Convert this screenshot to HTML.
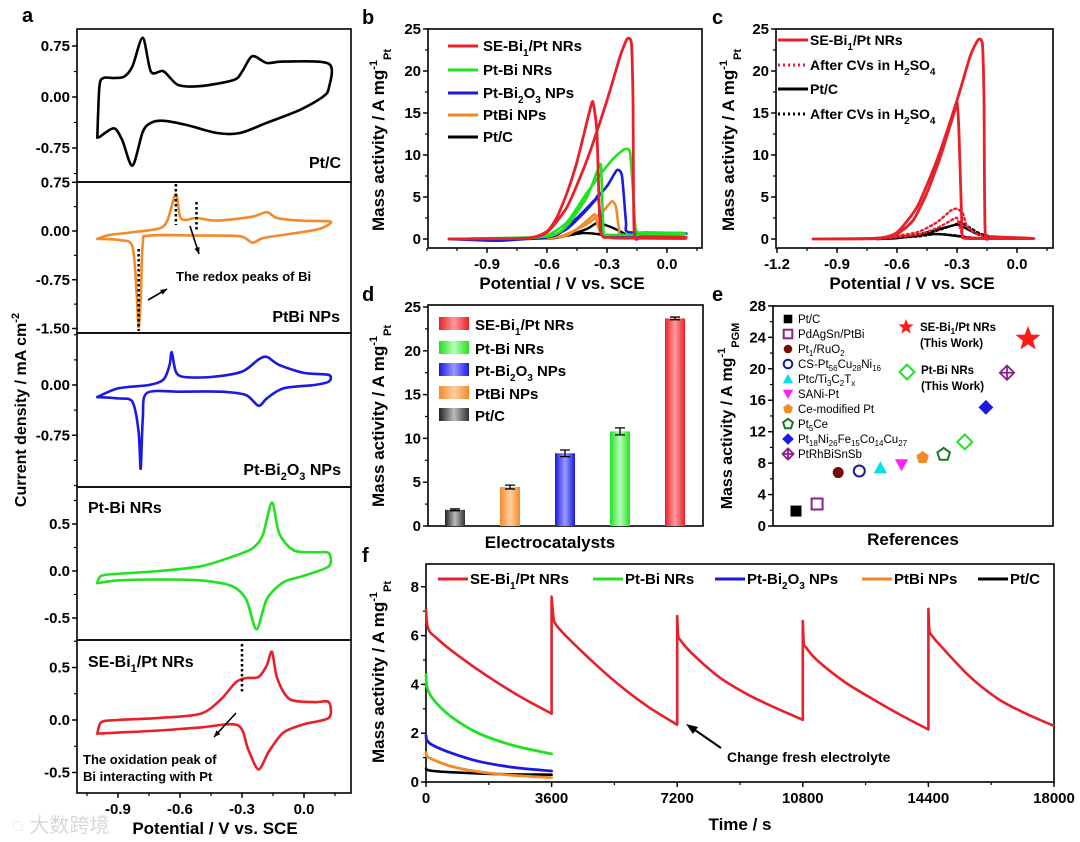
<!DOCTYPE html>
<html><head><meta charset="utf-8">
<style>
html,body{margin:0;padding:0;background:#fff;}
svg{display:block;font-family:"Liberation Sans",Arial,sans-serif;}
.b{font-weight:bold;}
</style></head>
<body>
<svg id="fig" width="1080" height="842" viewBox="0 0 1080 842" xmlns="http://www.w3.org/2000/svg">
<defs>
<linearGradient id="gRed" x1="0" x2="1"><stop offset="0" stop-color="#e8202a"/><stop offset="0.5" stop-color="#ff9a9a"/><stop offset="1" stop-color="#e8202a"/></linearGradient>
<linearGradient id="gGreen" x1="0" x2="1"><stop offset="0" stop-color="#22e022"/><stop offset="0.5" stop-color="#b5ffb5"/><stop offset="1" stop-color="#22e022"/></linearGradient>
<linearGradient id="gBlue" x1="0" x2="1"><stop offset="0" stop-color="#1a1ae0"/><stop offset="0.5" stop-color="#9a9aff"/><stop offset="1" stop-color="#1a1ae0"/></linearGradient>
<linearGradient id="gOrange" x1="0" x2="1"><stop offset="0" stop-color="#f38a2a"/><stop offset="0.5" stop-color="#ffcf9e"/><stop offset="1" stop-color="#f38a2a"/></linearGradient>
<linearGradient id="gGray" x1="0" x2="1"><stop offset="0" stop-color="#222"/><stop offset="0.5" stop-color="#bbb"/><stop offset="1" stop-color="#333"/></linearGradient>
</defs>
<g id="static">
<text x="22" y="22" class="b" font-size="20">a</text>
<text x="362" y="24" class="b" font-size="20">b</text>
<text x="712" y="24" class="b" font-size="20">c</text>
<text x="362" y="301" class="b" font-size="20">d</text>
<text x="712" y="301" class="b" font-size="20">e</text>
<text x="362" y="562" class="b" font-size="20">f</text>

<text class="b" font-size="16" transform="translate(26,410) rotate(-90)" text-anchor="middle">Current density / mA cm<tspan dy="-7" font-size="11">-2</tspan></text>
<text class="b" font-size="17" x="215" y="834" text-anchor="middle">Potential / V vs. SCE</text>
<text class="b" font-size="16" x="341" y="168" text-anchor="end">Pt/C</text>
<text class="b" font-size="16" x="340" y="322" text-anchor="end">PtBi NPs</text>
<text class="b" font-size="16" x="341" y="475" text-anchor="end">Pt-Bi<tspan dy="5" font-size="11">2</tspan><tspan dy="-5">O</tspan><tspan dy="5" font-size="11">3</tspan><tspan dy="-5"> NPs</tspan></text>
<text class="b" font-size="16" x="88" y="513">Pt-Bi NRs</text>
<text class="b" font-size="16" x="88" y="667">SE-Bi<tspan dy="5" font-size="11">1</tspan><tspan dy="-5">/Pt NRs</tspan></text>
<text class="b" font-size="13" x="176" y="281">The redox peaks of Bi</text>
<text class="b" font-size="13" x="83" y="764">The oxidation peak of</text>
<text class="b" font-size="13" x="83" y="781">Bi interacting with Pt</text>

<text class="b" font-size="17" transform="translate(384,140) rotate(-90)" text-anchor="middle">Mass activity / A mg<tspan dy="-7" font-size="11">-1</tspan><tspan dy="14" font-size="11">Pt</tspan></text>
<text class="b" font-size="17" x="562" y="289" text-anchor="middle">Potential / V vs. SCE</text>
<g class="b" font-size="15">
<line x1="448" y1="46" x2="478" y2="46" stroke="#e8202a" stroke-width="3"/><text x="483" y="51">SE-Bi<tspan dy="5" font-size="10">1</tspan><tspan dy="-5">/Pt NRs</tspan></text>
<line x1="448" y1="70" x2="478" y2="70" stroke="#22e022" stroke-width="3"/><text x="483" y="75">Pt-Bi NRs</text>
<line x1="448" y1="93" x2="478" y2="93" stroke="#1a1ae0" stroke-width="3"/><text x="483" y="98">Pt-Bi<tspan dy="5" font-size="10">2</tspan><tspan dy="-5">O</tspan><tspan dy="5" font-size="10">3</tspan><tspan dy="-5"> NPs</tspan></text>
<line x1="448" y1="115" x2="478" y2="115" stroke="#f38a2a" stroke-width="3"/><text x="483" y="120">PtBi NPs</text>
<line x1="448" y1="137" x2="478" y2="137" stroke="#000" stroke-width="3"/><text x="483" y="142">Pt/C</text>
</g>

<text class="b" font-size="17" transform="translate(734,140) rotate(-90)" text-anchor="middle">Mass activity / A mg<tspan dy="-7" font-size="11">-1</tspan><tspan dy="14" font-size="11">Pt</tspan></text>
<text class="b" font-size="17" x="912" y="289" text-anchor="middle">Potential / V vs. SCE</text>
<g class="b" font-size="14">
<line x1="778" y1="40" x2="808" y2="40" stroke="#e8202a" stroke-width="3"/><text x="810" y="45">SE-Bi<tspan dy="5" font-size="10">1</tspan><tspan dy="-5">/Pt NRs</tspan></text>
<line x1="778" y1="65" x2="808" y2="65" stroke="#e8202a" stroke-width="3" stroke-dasharray="2,3"/><text x="810" y="70">After CVs in H<tspan dy="5" font-size="10">2</tspan><tspan dy="-5">SO</tspan><tspan dy="5" font-size="10">4</tspan></text>
<line x1="778" y1="89" x2="808" y2="89" stroke="#000" stroke-width="3"/><text x="810" y="94">Pt/C</text>
<line x1="778" y1="114" x2="808" y2="114" stroke="#000" stroke-width="3" stroke-dasharray="2,3"/><text x="810" y="119">After CVs in H<tspan dy="5" font-size="10">2</tspan><tspan dy="-5">SO</tspan><tspan dy="5" font-size="10">4</tspan></text>
</g>

<text class="b" font-size="17" transform="translate(384,416) rotate(-90)" text-anchor="middle">Mass activity / A mg<tspan dy="-7" font-size="11">-1</tspan><tspan dy="14" font-size="11">Pt</tspan></text>
<text class="b" font-size="17" x="550" y="548" text-anchor="middle">Electrocatalysts</text>
<g class="b" font-size="15">
<rect x="439" y="317" width="30" height="13" fill="url(#gRed)"/><text x="475" y="330">SE-Bi<tspan dy="5" font-size="10">1</tspan><tspan dy="-5">/Pt NRs</tspan></text>
<rect x="439" y="341" width="30" height="13" fill="url(#gGreen)"/><text x="475" y="354">Pt-Bi NRs</text>
<rect x="439" y="363" width="30" height="13" fill="url(#gBlue)"/><text x="475" y="376">Pt-Bi<tspan dy="5" font-size="10">2</tspan><tspan dy="-5">O</tspan><tspan dy="5" font-size="10">3</tspan><tspan dy="-5"> NPs</tspan></text>
<rect x="439" y="386" width="30" height="13" fill="url(#gOrange)"/><text x="475" y="399">PtBi NPs</text>
<rect x="439" y="408" width="30" height="13" fill="url(#gGray)"/><text x="475" y="421">Pt/C</text>
</g>

<text class="b" font-size="16" transform="translate(732,416) rotate(-90)" text-anchor="middle">Mass activity / A mg<tspan dy="-7" font-size="11">-1</tspan><tspan dy="14" font-size="11">PGM</tspan></text>
<text class="b" font-size="17" x="913" y="545" text-anchor="middle">References</text>
<g font-size="11.5">
<text x="798" y="323">Pt/C</text>
<text x="798" y="338">PdAgSn/PtBi</text>
<text x="798" y="353">Pt<tspan dy="3" font-size="8">1</tspan><tspan dy="-3">/RuO</tspan><tspan dy="3" font-size="8">2</tspan></text>
<text x="798" y="368">CS-Pt<tspan dy="3" font-size="8">56</tspan><tspan dy="-3">Cu</tspan><tspan dy="3" font-size="8">28</tspan><tspan dy="-3">Ni</tspan><tspan dy="3" font-size="8">16</tspan></text>
<text x="798" y="383">Ptc/Ti<tspan dy="3" font-size="8">3</tspan><tspan dy="-3">C</tspan><tspan dy="3" font-size="8">2</tspan><tspan dy="-3">T</tspan><tspan dy="3" font-size="8">x</tspan></text>
<text x="798" y="398">SANi-Pt</text>
<text x="798" y="413">Ce-modified Pt</text>
<text x="798" y="428">Pt<tspan dy="3" font-size="8">5</tspan><tspan dy="-3">Ce</tspan></text>
<text x="798" y="443">Pt<tspan dy="3" font-size="8">18</tspan><tspan dy="-3">Ni</tspan><tspan dy="3" font-size="8">26</tspan><tspan dy="-3">Fe</tspan><tspan dy="3" font-size="8">15</tspan><tspan dy="-3">Co</tspan><tspan dy="3" font-size="8">14</tspan><tspan dy="-3">Cu</tspan><tspan dy="3" font-size="8">27</tspan></text>
<text x="798" y="458">PtRhBiSnSb</text>
<text x="920" y="331" class="b">SE-Bi<tspan dy="3" font-size="8">1</tspan><tspan dy="-3">/Pt NRs</tspan></text>
<text x="920" y="347" class="b">(This Work)</text>
<text x="921" y="374" class="b">Pt-Bi NRs</text>
<text x="921" y="390" class="b">(This Work)</text>
</g>

<text class="b" font-size="17" transform="translate(384,672) rotate(-90)" text-anchor="middle">Mass activity / A mg<tspan dy="-7" font-size="11">-1</tspan><tspan dy="14" font-size="11">Pt</tspan></text>
<text class="b" font-size="17" x="740" y="830" text-anchor="middle">Time / s</text>
<g class="b" font-size="15">
<line x1="438" y1="579" x2="468" y2="579" stroke="#e8202a" stroke-width="3"/><text x="470" y="584">SE-Bi<tspan dy="5" font-size="10">1</tspan><tspan dy="-5">/Pt NRs</tspan></text>
<line x1="593" y1="579" x2="623" y2="579" stroke="#22e022" stroke-width="3"/><text x="625" y="584">Pt-Bi NRs</text>
<line x1="715" y1="579" x2="745" y2="579" stroke="#1a1ae0" stroke-width="3"/><text x="747" y="584">Pt-Bi<tspan dy="5" font-size="10">2</tspan><tspan dy="-5">O</tspan><tspan dy="5" font-size="10">3</tspan><tspan dy="-5"> NPs</tspan></text>
<line x1="862" y1="579" x2="892" y2="579" stroke="#f38a2a" stroke-width="3"/><text x="894" y="584">PtBi NPs</text>
<line x1="978" y1="579" x2="1008" y2="579" stroke="#000" stroke-width="3"/><text x="1010" y="584">Pt/C</text>
</g>
<text class="b" font-size="14" x="727" y="762">Change fresh electrolyte</text>
<line x1="721" y1="748" x2="692" y2="728" stroke="#000" stroke-width="2"/>
<polygon points="686,724 698,727 693,734" fill="#000"/>

<text x="12" y="832" font-size="20" fill="#d8d8d8" font-family="'Liberation Sans','Noto Sans CJK SC',sans-serif">◌ 大数跨境</text>
</g>
<g id="dyn"></g>
</svg>
<script>
const aPtC = [[-1.0,-0.6],[-0.99,0.15],[-0.97,0.28],[-0.92,0.28],[-0.87,0.3],[-0.83,0.45],[-0.78,0.87],[-0.74,0.37],[-0.68,0.38],[-0.61,0.18],[-0.5,0.16],[-0.34,0.25],[-0.3,0.37],[-0.25,0.6],[-0.18,0.5],[-0.1,0.52],[0.12,0.49],[0.12,0.13],[0.09,0.0],[-0.02,-0.19],[-0.18,-0.38],[-0.31,-0.53],[-0.42,-0.53],[-0.57,-0.41],[-0.68,-0.35],[-0.74,-0.38],[-0.78,-0.51],[-0.83,-1.01],[-0.88,-0.63],[-0.92,-0.46],[-0.99,-0.59]];
const aPtBiNPs = [[-1.0,-0.12],[-0.94,-0.06],[-0.83,-0.02],[-0.7,0.04],[-0.66,0.17],[-0.62,0.57],[-0.6,0.22],[-0.57,0.17],[-0.52,0.2],[-0.42,0.16],[-0.25,0.22],[-0.18,0.29],[-0.13,0.2],[-0.02,0.16],[0.12,0.15],[0.12,0.1],[0.06,0.02],[-0.1,-0.06],[-0.2,-0.11],[-0.25,-0.18],[-0.31,-0.08],[-0.5,-0.07],[-0.75,-0.07],[-0.78,-0.19],[-0.79,-1.05],[-0.8,-1.48],[-0.81,-0.95],[-0.83,-0.24],[-0.89,-0.14],[-1.0,-0.12]];
const aPtBi2O3 = [[-1.0,-0.18],[-0.9,-0.05],[-0.75,0.0],[-0.68,0.08],[-0.65,0.3],[-0.64,0.49],[-0.62,0.2],[-0.58,0.12],[-0.45,0.12],[-0.3,0.2],[-0.22,0.38],[-0.18,0.42],[-0.12,0.3],[0.0,0.18],[0.12,0.15],[0.12,0.05],[0.05,0.0],[-0.1,-0.05],[-0.18,-0.2],[-0.22,-0.31],[-0.28,-0.15],[-0.4,-0.1],[-0.6,-0.1],[-0.76,-0.12],[-0.78,-0.5],[-0.79,-1.25],[-0.8,-0.7],[-0.83,-0.25],[-0.9,-0.2],[-1.0,-0.18]];
const aPtBiNRs = [[-1.0,-0.12],[-0.98,-0.05],[-0.9,-0.03],[-0.7,0.0],[-0.5,0.05],[-0.35,0.15],[-0.25,0.24],[-0.2,0.38],[-0.155,0.73],[-0.12,0.4],[-0.05,0.22],[0.05,0.2],[0.12,0.19],[0.12,0.05],[0.0,-0.05],[-0.1,-0.12],[-0.18,-0.3],[-0.23,-0.62],[-0.28,-0.3],[-0.35,-0.16],[-0.5,-0.1],[-0.7,-0.09],[-0.9,-0.1],[-1.0,-0.13]];
const aSEBi = [[-1.0,-0.13],[-0.98,-0.02],[-0.9,0.0],[-0.7,0.02],[-0.5,0.06],[-0.4,0.2],[-0.33,0.36],[-0.28,0.4],[-0.22,0.41],[-0.18,0.52],[-0.155,0.65],[-0.13,0.4],[-0.07,0.2],[0.05,0.17],[0.12,0.17],[0.12,0.02],[0.0,-0.04],[-0.1,-0.12],[-0.17,-0.3],[-0.22,-0.47],[-0.27,-0.28],[-0.32,-0.05],[-0.5,-0.07],[-0.7,-0.1],[-0.9,-0.12],[-1.0,-0.13]];
const aXTicks = [-0.9,-0.6,-0.3,0.0];
const aXLabels = ["-0.9","-0.6","-0.3","0.0"];
const aY1Ticks=[0.75,0,-0.75], aY1Labels=["0.75","0.00","-0.75"];
const aY2Ticks=[0.75,0,-0.75,-1.5], aY2Labels=["0.75","0.00","-0.75","-1.50"];
const aY3Ticks=[0,-0.75], aY3Labels=["0.00","-0.75"];
const aY4Ticks=[0.5,0,-0.5], aY4Labels=["0.5","0.0","-0.5"];
const aY5Ticks=[0.5,0,-0.5], aY5Labels=["0.5","0.0","-0.5"];

const bRed = [[-1.09,0],[-0.7,0.1],[-0.6,0.8],[-0.5,3.8],[-0.4,9.4],[-0.3,16.5],[-0.235,21.7],[-0.2,23.8],[-0.178,23.3],[-0.17,16.5],[-0.164,0.8],[-0.12,0.3],[0.075,0.2],[0.075,0.1],[-0.235,0.1],[-0.285,0.2],[-0.333,1],[-0.35,12.6],[-0.37,16.3],[-0.385,15.4],[-0.45,9.2],[-0.5,5.5],[-0.55,2.6],[-0.6,0.9],[-0.7,0.1],[-1.09,0]];
const bGreen = [[-1.09,0],[-0.7,0.1],[-0.6,0.4],[-0.5,2],[-0.4,5.5],[-0.3,8.7],[-0.25,10],[-0.21,10.7],[-0.185,10.3],[-0.168,5],[-0.155,1.0],[-0.1,0.8],[0.075,0.7],[0.075,0.6],[-0.2,0.5],[-0.3,0.5],[-0.318,1],[-0.33,8.7],[-0.35,8],[-0.4,5],[-0.5,1.6],[-0.6,0.3],[-1.09,0]];
const bBlue = [[-1.09,0],[-0.85,-0.2],[-0.7,0],[-0.6,0.2],[-0.5,1.2],[-0.4,3.5],[-0.3,6.3],[-0.25,8.2],[-0.225,7.5],[-0.205,2],[-0.19,0.8],[0.075,0.7],[0.075,0.6],[-0.25,0.4],[-0.32,0.5],[-0.335,3],[-0.345,5.1],[-0.36,4.7],[-0.45,2.5],[-0.55,0.5],[-0.7,0],[-1.09,0]];
const bOrange = [[-1.09,0],[-0.6,0.1],[-0.5,0.6],[-0.4,1.8],[-0.32,3.3],[-0.275,4.5],[-0.255,3.8],[-0.24,1.2],[-0.22,0.5],[0.075,0.3],[0.075,0.25],[-0.3,0.4],[-0.34,1.2],[-0.36,2.9],[-0.38,2.6],[-0.45,1.2],[-0.55,0.2],[-1.09,0]];
const bBlack = [[-1.09,0],[-0.6,0.05],[-0.5,0.4],[-0.4,1.2],[-0.35,1.9],[-0.3,1.6],[-0.25,1.1],[-0.2,0.5],[-0.15,0.2],[0.075,0.1],[0.075,0.05],[-0.2,0.1],[-0.28,0.3],[-0.35,0.6],[-0.42,0.7],[-0.5,0.4],[-0.6,0.1],[-1.09,0]];
const bXTicks=[-0.9,-0.6,-0.3,0.0], bXLabels=["-0.9","-0.6","-0.3","0.0"];
const bYTicks=[0,5,10,15,20,25], bYLabels=["0","5","10","15","20","25"];

const cRed = [[-1.02,0],[-0.7,0.1],[-0.6,0.8],[-0.5,3.8],[-0.4,9.4],[-0.3,16.5],[-0.235,21.7],[-0.195,23.7],[-0.173,23.2],[-0.165,16.5],[-0.159,0.8],[-0.12,0.3],[0.065,0.1],[0.065,0.05],[-0.235,0.05],[-0.27,0.2],[-0.275,1],[-0.29,12.6],[-0.3,16.3],[-0.31,15.4],[-0.38,10],[-0.45,5.5],[-0.52,2.2],[-0.6,0.6],[-0.7,0.05],[-1.02,0]];
const cRedAfter = [[-0.7,0],[-0.5,0.8],[-0.4,2],[-0.33,3.4],[-0.3,3.6],[-0.27,3],[-0.25,1.5],[-0.2,0.6],[-0.1,0.2],[0.07,0.1],[0.07,0.05],[-0.25,0.2],[-0.28,1],[-0.3,2.5],[-0.33,2.2],[-0.4,1.3],[-0.5,0.5],[-0.7,0]];
const cBlack = [[-0.7,0],[-0.6,0.1],[-0.5,0.5],[-0.4,1.1],[-0.3,1.7],[-0.25,1.2],[-0.2,0.6],[-0.12,0.2],[0.07,0.05],[-0.2,0.1],[-0.28,0.3],[-0.35,0.5],[-0.42,0.6],[-0.5,0.4],[-0.6,0.1],[-0.7,0]];
const cBlackAfter = [[-0.7,0],[-0.5,0.4],[-0.4,1.0],[-0.3,1.8],[-0.28,2.0],[-0.24,1.4],[-0.18,0.6],[-0.1,0.2],[0.07,0.05],[-0.2,0.1],[-0.3,0.4],[-0.4,0.6],[-0.5,0.3],[-0.7,0]];
const cXTicks=[-1.2,-0.9,-0.6,-0.3,0.0], cXLabels=["-1.2","-0.9","-0.6","-0.3","0.0"];

const dCats = ["Pt/C","PtBi NPs","Pt-Bi2O3 NPs","Pt-Bi NRs","SE-Bi1/Pt NRs"];
const dValues = [1.85,4.45,8.3,10.8,23.7];
const dErrors = [0.1,0.22,0.38,0.4,0.15];
const dFills = ["url(#gGray)","url(#gOrange)","url(#gBlue)","url(#gGreen)","url(#gRed)"];
const dYTicks=[0,5,10,15,20,25], dYLabels=["0","5","10","15","20","25"];

const eNames = ["Pt/C","PdAgSn/PtBi","Pt1/RuO2","CS-Pt56Cu28Ni16","Ptc/Ti3C2Tx","SANi-Pt","Ce-modified Pt","Pt5Ce","Pt-Bi NRs","Pt18Ni26Fe15Co14Cu27","PtRhBiSnSb","SE-Bi1/Pt NRs"];
const eValues = [1.9,2.8,6.8,7.0,7.4,7.8,8.7,9.1,10.7,15.1,19.5,23.8];
const eMarkers = ["sq","osq","circ","ocirc","tri","itri","pent","opent","odia","dia","ocross","star"];
const eColors = ["#000","#8b2090","#7a0a0a","#1a1aa0","#00e0e8","#ff20ff","#f38a2a","#1a7a1a","#22e022","#1a1ae0","#8b2090","#ff1a1a"];
const eLegendIdx = [0,1,2,3,4,5,6,7,9,10];
const eYTicks=[0,4,8,12,16,20,24,28], eYLabels=["0","4","8","12","16","20","24","28"];

const fRedT = [0,60,300,900,1800,2700,3600, 3600,3650,3700,4000,4800,5600,6400,7200, 7200,7230,7300,7600,8400,9200,10000,10800, 10800,10830,10900,11200,12000,12800,13600,14400, 14400,14430,14500,14800,15600,16400,17200,18000];
const fRedV = [7.1,6.3,5.9,5.2,4.3,3.5,2.8, 7.6,6.8,6.5,6.0,4.9,3.9,3.05,2.35, 6.8,6.0,5.8,5.3,4.3,3.6,3.05,2.55, 6.6,5.7,5.5,5.0,4.1,3.4,2.75,2.15, 7.1,6.2,6.0,5.5,4.3,3.4,2.8,2.3];
const fT = [0,30,200,700,1500,2500,3600];
const fGreen = [4.4,3.9,3.4,2.7,2.0,1.5,1.15];
const fBlue = [1.9,1.7,1.5,1.2,0.85,0.6,0.45];
const fOrange = [1.2,1.05,0.92,0.65,0.42,0.27,0.18];
const fBlack = [0.55,0.5,0.45,0.4,0.35,0.31,0.3];
const fXTicks=[0,3600,7200,10800,14400,18000], fXLabels=["0","3600","7200","10800","14400","18000"];
const fYTicks=[0,2,4,6,8], fYLabels=["0","2","4","6","8"];

const NS='http://www.w3.org/2000/svg';
const G=document.getElementById('dyn');
function mk(tag,attrs,parent){const e=document.createElementNS(NS,tag);for(const k in attrs)e.setAttribute(k,attrs[k]);(parent||G).appendChild(e);return e;}
function smooth(P,t){t=t||1/6;let d='M'+P[0][0].toFixed(1)+','+P[0][1].toFixed(1);
 for(let i=0;i<P.length-1;i++){const p0=P[i-1]||P[i],p1=P[i],p2=P[i+1],p3=P[i+2]||P[i+1];
  const c1=[p1[0]+(p2[0]-p0[0])*t,p1[1]+(p2[1]-p0[1])*t],c2=[p2[0]-(p3[0]-p1[0])*t,p2[1]-(p3[1]-p1[1])*t];
  d+='C'+c1.map(v=>v.toFixed(1))+' '+c2.map(v=>v.toFixed(1))+' '+p2.map(v=>v.toFixed(1));}
 return d;}
function curve(data,sx,sy,color,w,dash,name,tension){
 const p=mk('path',{d:smooth(data.map(q=>[sx(q[0]),sy(q[1])]),tension),fill:'none',stroke:color,'stroke-width':w,'stroke-linejoin':'round','stroke-linecap':'round'});
 if(dash)p.setAttribute('stroke-dasharray',dash);
 
 
}
function frame(x0,y0,x1,y1,name){
 const r=mk('rect',{x:x0,y:y0,width:x1-x0,height:y1-y0,fill:'none',stroke:'#000','stroke-width':1.6});
 
 
}
function yAxis(x,ticks,labels,sy,name,fs,minorStep,ymin,ymax){
 ticks.forEach((v,i)=>{
  mk('line',{x1:x-5,x2:x,y1:sy(v),y2:sy(v),stroke:'#000','stroke-width':1.4});
  const t=mk('text',{x:x-7,y:sy(v)+5,'text-anchor':'end','font-size':fs||15,'font-weight':'bold'});
  t.textContent=labels[i];
  
  
 });
 if(minorStep){for(let v=ymin;v<=ymax+1e-9;v+=minorStep){const y=sy(v);mk('line',{x1:x-3,x2:x,y1:y,y2:y,stroke:'#000','stroke-width':1.2});}}
}
function xAxis(y,ticks,labels,sx,name,fs,minorStep,xmin,xmax){
 ticks.forEach((v,i)=>{
  mk('line',{x1:sx(v),x2:sx(v),y1:y,y2:y+5,stroke:'#000','stroke-width':1.4});
  const t=mk('text',{x:sx(v),y:y+21,'text-anchor':'middle','font-size':fs||15,'font-weight':'bold'});
  t.textContent=labels[i];
  
  
 });
 if(minorStep){for(let v=xmin;v<=xmax+1e-9;v+=minorStep){const x=sx(v);mk('line',{x1:x,x2:x,y1:y,y2:y+3,stroke:'#000','stroke-width':1.2});}}
}

const ax=v=>304+v*206.7;
const aSubs=[
 {y0:29,y1:182,z:97,k:68,data:aPtC,col:'#000',t:aY1Ticks,l:aY1Labels,n:'a-ptc'},
 {y0:182,y1:333,z:231,k:65,data:aPtBiNPs,col:'#f38a2a',t:aY2Ticks,l:aY2Labels,n:'a-ptbi-nps'},
 {y0:333,y1:487,z:385,k:67,data:aPtBi2O3,col:'#1a1ae0',t:aY3Ticks,l:aY3Labels,n:'a-ptbi2o3'},
 {y0:487,y1:640,z:571,k:94,data:aPtBiNRs,col:'#22e022',t:aY4Ticks,l:aY4Labels,n:'a-ptbi-nrs'},
 {y0:640,y1:793,z:720,k:105,data:aSEBi,col:'#e8202a',t:aY5Ticks,l:aY5Labels,n:'a-sebi'}];
aSubs.forEach(s=>{
 const sy=v=>s.z-v*s.k;
 frame(77,s.y0,351,s.y1,s.n+'-frame');
 const mstep=s.t.length>1?Math.abs(s.t[0]-s.t[1])/2:0.375;
 const lo=(s.z-s.y1)/s.k, hi=(s.z-s.y0)/s.k;
 const st=Math.ceil(lo/mstep)*mstep;
 yAxis(77,s.t,s.l,sy,s.n+'-y',15,mstep,st,hi);
 curve(s.data,ax,sy,s.col,2.6,null,s.n+'-cv-curve',1/7);
});
xAxis(793,aXTicks,aXLabels,ax,'a-x',15,0.15,-1.05,0.2);
[[ax(-0.62),184,ax(-0.62),225],[ax(-0.52),202,ax(-0.52),230],[ax(-0.8),249,ax(-0.8),331],[ax(-0.3),644,ax(-0.3),692]].forEach(d=>{
 const l=mk('line',{x1:d[0],y1:d[1],x2:d[2],y2:d[3],stroke:'#000','stroke-width':2.5,'stroke-dasharray':'2.5,2.5'});
 
 
});
[[190,226,199,254],[148,300,167,289],[236,713,214,737]].forEach(d=>{
 const l=mk('line',{x1:d[0],y1:d[1],x2:d[2],y2:d[3],stroke:'#000','stroke-width':1.6});
 
 
 const ang=Math.atan2(d[3]-d[1],d[2]-d[0]),L=7;
 const p=mk('polygon',{points:`${d[2]},${d[3]} ${d[2]-L*Math.cos(ang-0.4)},${d[3]-L*Math.sin(ang-0.4)} ${d[2]-L*Math.cos(ang+0.4)},${d[3]-L*Math.sin(ang+0.4)}`,fill:'#000'});
 
 
});

const bx=v=>667+v*200, by=v=>239-v*8.4;
frame(428,29,702,248,'b-frame');
yAxis(428,bYTicks,bYLabels,by,'b-y',15,2.5,0,25);
xAxis(248,bXTicks,bXLabels,bx,'b-x',15,0.15,-1.2,0.15);
const TB=0.1;
curve(bBlack,bx,by,'#000',2.4,null,'b-ptc-curve',TB);
curve(bOrange,bx,by,'#f38a2a',2.6,null,'b-ptbi-nps-curve',TB);
curve(bBlue,bx,by,'#1a1ae0',2.6,null,'b-ptbi2o3-curve',TB);
curve(bGreen,bx,by,'#22e022',2.6,null,'b-ptbi-nrs-curve',TB);
curve(bRed,bx,by,'#e8202a',2.8,null,'b-sebi-curve',TB);

const cx=v=>1017+v*200, cy=v=>239-v*8.4;
frame(776,29,1053,248,'c-frame');
yAxis(776,bYTicks,bYLabels,cy,'c-y',15,2.5,0,25);
xAxis(248,cXTicks,cXLabels,cx,'c-x',15,0.15,-1.2,0.15);
curve(cBlack,cx,cy,'#000',2.4,null,'c-ptc-curve',TB);
curve(cBlackAfter,cx,cy,'#000',2.4,'2,3','c-ptc-after-curve',TB);
curve(cRedAfter,cx,cy,'#e8202a',2.4,'2,3','c-sebi-after-curve',TB);
curve(cRed,cx,cy,'#e8202a',2.8,null,'c-sebi-curve',TB);

const dy=v=>526-v*8.76, dx=i=>455+i*55;
frame(428,305,703,526,'d-frame');
yAxis(428,dYTicks,dYLabels,dy,'d-y',15,2.5,0,25);
dCats.forEach((c,i)=>{
 const r=mk('rect',{x:dx(i)-10,y:dy(dValues[i]),width:20,height:dy(0)-dy(dValues[i]),fill:dFills[i]});
 
 
 const top=dy(dValues[i]+dErrors[i]),bot=dy(dValues[i]-dErrors[i]);
 const e=mk('path',{d:`M${dx(i)-5},${top}H${dx(i)+5}M${dx(i)},${top}V${bot}M${dx(i)-5},${bot}H${dx(i)+5}`,stroke:'#000','stroke-width':1.3,fill:'none'});
 
 
});

const ey=v=>526-v*7.86, ex=i=>796+i*21.1;
frame(773,306,1053,526,'e-frame');
yAxis(773,eYTicks,eYLabels,ey,'e-y',15,2,0,28);
function marker(kind,x,y,c,s,name){
 let e;const f=kind.startsWith('o')?'none':c,sw=kind.startsWith('o')?2:0;
 const k=kind.replace(/^o/,'');
 if(k==='sq')e=mk('rect',{x:x-s,y:y-s,width:2*s,height:2*s,fill:f,stroke:c,'stroke-width':sw});
 else if(k==='cross'){e=mk('g',{});mk('path',{d:`M${x-s*1.3},${y}L${x},${y-s*1.3}L${x+s*1.3},${y}L${x},${y+s*1.3}ZM${x-s*1.3},${y}H${x+s*1.3}M${x},${y-s*1.3}V${y+s*1.3}`,fill:'none',stroke:c,'stroke-width':1.8},e);}
 else if(k==='circ')e=mk('circle',{cx:x,cy:y,r:s,fill:f,stroke:c,'stroke-width':sw});
 else if(k==='tri')e=mk('polygon',{points:`${x},${y-s*1.2} ${x+s*1.2},${y+s} ${x-s*1.2},${y+s}`,fill:f,stroke:c,'stroke-width':sw});
 else if(k==='itri')e=mk('polygon',{points:`${x},${y+s*1.2} ${x+s*1.2},${y-s} ${x-s*1.2},${y-s}`,fill:f,stroke:c,'stroke-width':sw});
 else if(k==='pent'){let pts=[];for(let j=0;j<5;j++){const a=-Math.PI/2+j*2*Math.PI/5;pts.push((x+s*1.2*Math.cos(a)).toFixed(1)+','+(y+s*1.2*Math.sin(a)).toFixed(1));}e=mk('polygon',{points:pts.join(' '),fill:f,stroke:c,'stroke-width':sw});}
 else if(k==='dia')e=mk('polygon',{points:`${x},${y-s*1.35} ${x+s*1.35},${y} ${x},${y+s*1.35} ${x-s*1.35},${y}`,fill:f,stroke:c,'stroke-width':sw});
 else if(k==='star'){let pts=[];for(let j=0;j<10;j++){const a=-Math.PI/2+j*Math.PI/5,r=j%2?s*0.42:s;pts.push((x+r*Math.cos(a)).toFixed(1)+','+(y+r*Math.sin(a)).toFixed(1));}e=mk('polygon',{points:pts.join(' '),fill:c});}
 
 
}
eValues.forEach((v,i)=>{
 const s=eMarkers[i]==='star'?13:5.5;
 marker(eMarkers[i],i===11?1028:ex(i),ey(v),eColors[i],s,'e-point-'+i);
});
eLegendIdx.forEach((idx,j)=>{
 marker(eMarkers[idx],788,319+j*15,eColors[idx],4.3,'e-legend-marker-'+j);
});
marker('star',906,327,'#ff1a1a',8,'e-legend-star');
marker('odia',907,372,'#22e022',5.5,'e-legend-diamond');

const fx=v=>426+v*(628/18000), fy=v=>782-v*24.4;
frame(426,564,1054,782,'f-frame');
yAxis(426,fYTicks,fYLabels,fy,'f-y',15,1,0,8.9);
xAxis(782,fXTicks,fXLabels,fx,'f-x',15,1800,0,18000);
curve(fT.map((t,i)=>[t,fBlack[i]]),fx,fy,'#000',2.6,null,'f-ptc-curve');
curve(fT.map((t,i)=>[t,fOrange[i]]),fx,fy,'#f38a2a',2.8,null,'f-ptbi-nps-curve');
curve(fT.map((t,i)=>[t,fBlue[i]]),fx,fy,'#1a1ae0',2.8,null,'f-ptbi2o3-curve');
curve(fT.map((t,i)=>[t,fGreen[i]]),fx,fy,'#22e022',2.8,null,'f-ptbi-nrs-curve');
(function(){
 let segs=[],cur=[];
 fRedT.forEach((t,i)=>{if(i>0&&t===fRedT[i-1]){segs.push(cur);cur=[];}cur.push([fx(t),fy(fRedV[i])]);});
 segs.push(cur);
 let d='';
 segs.forEach((s,i)=>{const part=smooth(s,1/6);d+=i===0?part:part.replace(/^M/,'L');});
 const p=mk('path',{d:d,fill:'none',stroke:'#e8202a','stroke-width':2.6,'stroke-linejoin':'round'});
 
 
})();
</script>
</body></html>
